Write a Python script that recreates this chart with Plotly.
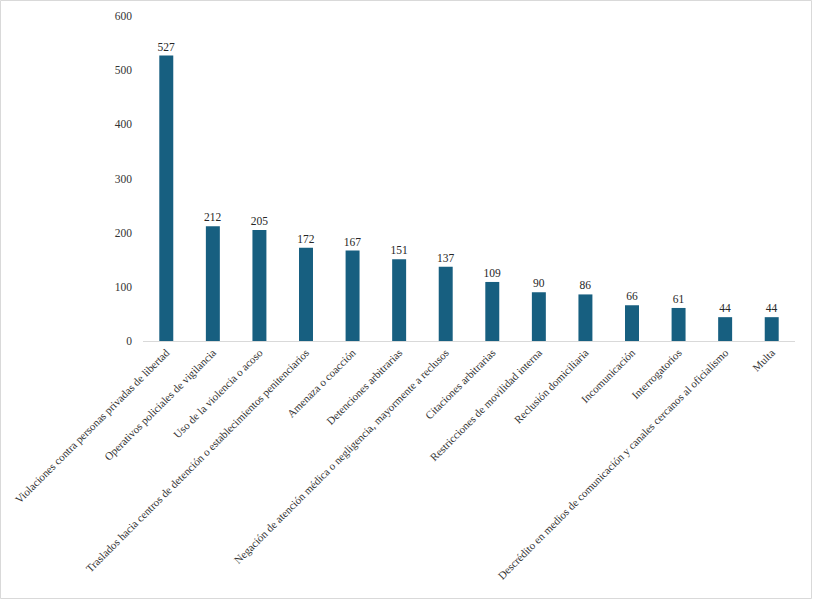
import plotly.graph_objects as go

categories = [
    "Violaciones contra personas privadas de libertad",
    "Operativos policiales de vigilancia",
    "Uso de la violencia o acoso",
    "Traslados hacia centros de detención o establecimientos penitenciarios",
    "Amenaza o coacción",
    "Detenciones arbitrarias",
    "Negación de atención médica o negligencia, mayormente a reclusos",
    "Citaciones arbitrarias",
    "Restricciones de movilidad interna",
    "Reclusión domiciliaria",
    "Incomunicación",
    "Interrogatorios",
    "Descrédito en medios de comunicación y canales cercanos al oficialismo",
    "Multa",
]
values = [527, 212, 205, 172, 167, 151, 137, 109, 90, 86, 66, 61, 44, 44]
y_ticks = [0, 100, 200, 300, 400, 500, 600]

W, H = 813, 600
L, R, T, B = 143, 18, 16, 259
pw, ph = W - L - R, H - T - B
SERIF = "Times New Roman"

fig = go.Figure(go.Bar(
    x=categories, y=values,
    marker=dict(color="#175f80", line=dict(width=0)),
    text=[str(v) for v in values], textposition="outside",
    constraintext="none",
    textfont=dict(family=SERIF, size=11.5, color="#262626"),
    cliponaxis=False,
))

fig.update_layout(
    template="none",
    width=W, height=H,
    margin=dict(l=L, r=R, t=T, b=B),
    paper_bgcolor="white", plot_bgcolor="white",
    font=dict(family=SERIF, size=11, color="#333333"),
    bargap=0.7,
    showlegend=False,
    xaxis=dict(tickangle=-45, showline=True, linecolor="#d9d9d9", linewidth=1,
               ticks="", showgrid=False, automargin=False,
               tickfont=dict(family=SERIF, size=11, color="#333333")),
    yaxis=dict(range=[0, 600], tickvals=y_ticks, showgrid=False, zeroline=False,
               showline=False, ticks="", ticklabelstandoff=10,
               tickfont=dict(family=SERIF, size=11.5, color="#333333")),
)

fig.add_shape(type="rect", xref="paper", yref="paper",
              x0=-(L - 0.5) / pw, x1=1 + (R - 1.5) / pw,
              y0=-(B - 1.5) / ph, y1=1 + (T - 0.5) / ph,
              line=dict(color="#d9d9d9", width=1), layer="above")

fig.write_html("out.html")
